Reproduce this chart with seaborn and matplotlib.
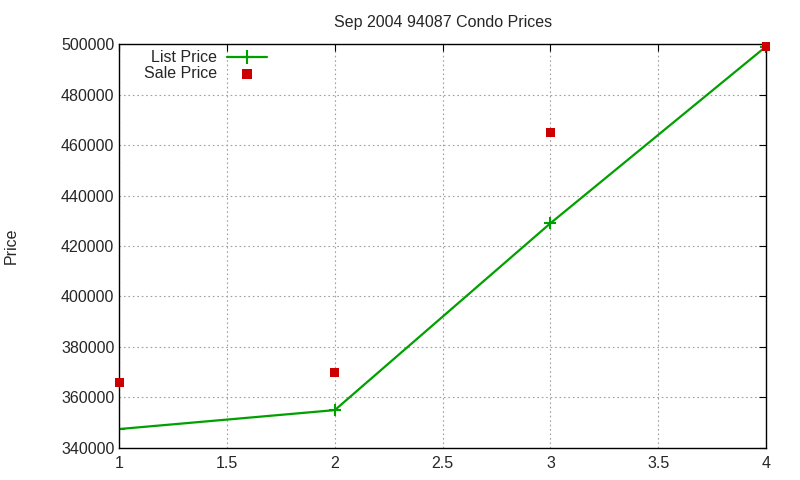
import matplotlib
matplotlib.use("Agg")
import matplotlib.pyplot as plt
import seaborn as sns
import pandas as pd

# === Data ===
units = [1, 2, 3, 4]
list_price = [347500, 355000, 429000, 499000]
sale_price = [366000, 370000, 465000, 499000]

df = pd.DataFrame({"unit": units, "List Price": list_price, "Sale Price": sale_price})

sns.set_style("white")
plt.rcParams["font.family"] = ["Liberation Sans", "DejaVu Sans"]

fig, ax = plt.subplots(figsize=(8, 4.8), dpi=100)
fig.subplots_adjust(left=0.149, right=0.9575, bottom=0.0667, top=0.9083)

sns.lineplot(data=df, x="unit", y="List Price", ax=ax, color="#00a000", linewidth=1.6,
             marker="+", markersize=8, markeredgewidth=1.5, markeredgecolor="#00a000",
             label="List Price")
sns.scatterplot(data=df, x="unit", y="Sale Price", ax=ax, color="#cc0000", marker="s",
                s=40, edgecolor="none", label="Sale Price", zorder=3, clip_on=False)

ax.set_xlim(1, 4)
ax.set_ylim(340000, 500000)
ax.set_xticks([1, 1.5, 2, 2.5, 3, 3.5, 4])
ax.set_xticklabels(["1", "1.5", "2", "2.5", "3", "3.5", "4"])
ax.set_yticks(range(340000, 500001, 20000))
ax.grid(True, color="#a0a0a0", linestyle=(0, (1.5, 2.5)), linewidth=0.8)
ax.tick_params(direction="in", top=True, right=True, length=5, labelsize=11.5, color="black")
ax.tick_params(axis="x", pad=6)
for s in ax.spines.values():
    s.set_color("black")
    s.set_linewidth(1)

ax.set_title("Sep 2004 94087 Condo Prices", fontsize=11.5, pad=12)
ax.set_xlabel("")
ax.set_ylabel("Price", fontsize=11.5, labelpad=30)

ax.legend(loc="upper left", bbox_to_anchor=(0.024, 1.008), frameon=False, markerfirst=False,
          fontsize=11.5, handlelength=2.5, borderaxespad=0.3, labelspacing=0.05,
          handletextpad=0.6, borderpad=0.3, markerscale=1.2)

fig.savefig("out.png", dpi=100)
